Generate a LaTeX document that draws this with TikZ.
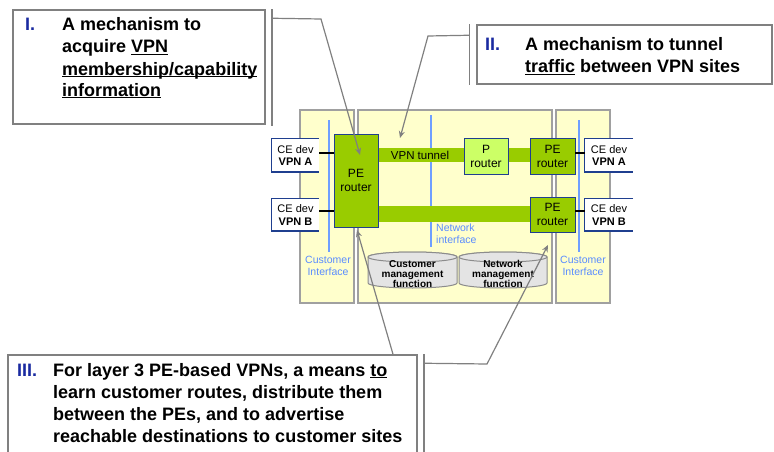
\documentclass[tikz,border=0pt]{standalone}
\usepackage{fontspec}
\setmainfont{Liberation Sans}
\usetikzlibrary{arrows.meta}
\definecolor{panelfill}{HTML}{FFFFCC}
\definecolor{panelline}{HTML}{A0A0A0}
\definecolor{boxline}{HTML}{808080}
\definecolor{pegreen}{HTML}{99CC00}
\definecolor{pgreen}{HTML}{CCFF66}
\definecolor{routerline}{HTML}{1F3F8F}
\definecolor{ifblue}{HTML}{6F9FFF}
\definecolor{iftext}{HTML}{5A8CFF}
\definecolor{numblue}{HTML}{1A2AA0}
\definecolor{cylfill}{HTML}{E4E4E4}
\definecolor{cylline}{HTML}{8C8C8C}
\newcommand\myul[1]{\underline{\smash{#1}}}
\begin{document}
\begin{tikzpicture}[x=1pt,y=-1pt,
  callout/.style={draw=boxline, line width=1.5pt, fill=white, inner sep=0},
  bracket/.style={draw=boxline, line width=1.5pt},
  panel/.style={draw=panelline, line width=2pt, fill=panelfill, inner sep=0},
  pe/.style={draw=routerline, line width=0.8pt, fill=pegreen, inner sep=0, align=center, font=\fontsize{12}{14}\selectfont},
  prouter/.style={pe, fill=pgreen},
  ce/.style={fill=white, inner sep=0, align=center, font=\fontsize{11}{12.5}\selectfont},
  ceedge/.style={draw=routerline, line width=1pt},
  bar/.style={fill=pegreen, draw=none},
  iface/.style={draw=ifblue, line width=1.5pt},
  iflabel/.style={text=iftext, font=\fontsize{10.5}{12}\selectfont, inner sep=0},
  link/.style={draw=black, line width=1.2pt},
  conn/.style={draw=boxline, line width=1.2pt, -{Stealth[length=7pt,width=6pt]}},
  bigtext/.style={font=\bfseries\fontsize{18}{22}\selectfont, inner sep=0, anchor=base west},
  numtext/.style={bigtext, text=numblue},
  cyl/.style={draw=cylline, line width=1pt, fill=cylfill},
  cyltext/.style={font=\bfseries\fontsize{10}{9.6}\selectfont, align=center, inner sep=0}
]
\useasboundingbox (0,0) rectangle (774,452);

% panels
\node[panel, minimum width=54, minimum height=193] (pl) at (327,206.5) {};
\node[panel, minimum width=194, minimum height=193] (pm) at (455,206.5) {};
\node[panel, minimum width=54, minimum height=193] (pr) at (583,206.5) {};

% interface lines
\draw[iface] (329,120) -- (329,252);
\draw[iface] (431,115) -- (431,247);
\draw[iface] (579,120) -- (579,252);

% bars
\fill[bar] (378,148) rectangle (530,162);
\fill[bar] (378,206) rectangle (530,222);

% routers
\node[pe, minimum width=44, minimum height=93] (peL) at (356,180.5) {PE\\router};
\node[prouter, minimum width=44, minimum height=36] (pR) at (486,156) {P\\router};
\node[pe, minimum width=45, minimum height=36] (peRT) at (552.5,156) {PE\\router};
\node[pe, minimum width=45, minimum height=35] (peRB) at (552.5,214.5) {PE\\router};

\node[font=\fontsize{11.5}{13}\selectfont, inner sep=0] (tun) at (420,155) {VPN tunnel};

% CE devices
\node[ce, minimum width=47, minimum height=33] (ceLA) at (295.5,155.5) {CE dev\\\textbf{VPN A}};
\node[ce, minimum width=47, minimum height=32] (ceLB) at (295.5,215) {CE dev\\\textbf{VPN B}};
\node[ce, minimum width=48, minimum height=33] (ceRA) at (609,155.5) {CE dev\\\textbf{VPN A}};
\node[ce, minimum width=48, minimum height=32] (ceRB) at (609,215) {CE dev\\\textbf{VPN B}};
\foreach \c in {ceLA,ceLB,ceRA,ceRB}{
  \draw[ceedge] (\c.north east) -- (\c.north west) -- (\c.south west);
  \draw[ceedge, line width=2pt] ([xshift=-0.5]\c.south west) -- (\c.south east);
}

\draw[link] ([yshift=2.5]ceLA.east) -- ([yshift=2.5]ceLA.east -| peL.west);
\draw[link] ([yshift=4]ceLB.east) -- ([yshift=4]ceLB.east -| peL.west);
\draw[link] ([yshift=2.5]ceRA.west) -- ([yshift=2.5]ceRA.west -| peRT.east);
\draw[link] ([yshift=4]ceRB.west) -- ([yshift=4]ceRB.west -| peRB.east);

% interface labels
\node[iflabel, align=center] (ciL) at (328,266) {Customer\\Interface};
\node[iflabel, align=center] (ciR) at (583,266) {Customer\\Interface};
\node[iflabel, align=left, anchor=north west] (ni) at (436,224) {Network\\interface};

% cylinders
\path[cyl] (368,257) -- (368,283) arc[start angle=180, end angle=360, x radius=44.5pt, y radius=5pt] -- (457,257) arc[start angle=0, end angle=180, x radius=44.5pt, y radius=5pt] -- cycle;
\draw[cyl] (412.5,257) ellipse[x radius=44.5pt, y radius=5pt];
\path[cyl] (459,257) -- (459,283) arc[start angle=180, end angle=360, x radius=44pt, y radius=5pt] -- (547,257) arc[start angle=0, end angle=180, x radius=44pt, y radius=5pt] -- cycle;
\draw[cyl] (503,257) ellipse[x radius=44pt, y radius=5pt];
\node[cyltext] (cmf) at (412.5,274) {Customer\\management\\function};
\node[cyltext] (nmf) at (503,274) {Network\\management\\function};

% callout boxes
\node[callout, minimum width=252, minimum height=114] (boxI) at (139,67) {};
\node[callout, minimum width=295, minimum height=59] (boxII) at (624.5,54.5) {};
\node[callout, minimum width=409, minimum height=115] (boxIII) at (212.5,412.5) {};

\draw[bracket] ([xshift=6]boxI.north east) -- ([xshift=6,yshift=-1]boxI.south east);
\draw[bracket] ([xshift=-7]boxII.north west) -- ([xshift=-7]boxII.south west);
\draw[bracket] ([xshift=6]boxIII.north east) -- ([xshift=6]boxIII.south east);

% connectors
\coordinate (elI) at (321,19);
\coordinate (tipI) at (360,155);
\coordinate (elII) at (428,36);
\coordinate (tipII) at (400,138);
\coordinate (tipIIIa) at (357,230);
\coordinate (elIII) at (487,364);
\coordinate (tipIIIb) at (548,245);
\draw[conn] ([xshift=6,yshift=-9]boxI.north east) -- (elI) -- (tipI);
\draw[conn] ([xshift=-7,yshift=-11]boxII.north west) -- (elII) -- (tipII);
\draw[conn] ([xshift=180.5]boxIII.north) -- (tipIIIa);
\draw[conn] ([xshift=6,yshift=-9]boxIII.north east) -- (elIII) -- (tipIIIb);

% texts box I
\node[numtext] (nI) at (25,31) {I.};
\node[bigtext] (tI1) at (62,31) {A mechanism to};
\node[bigtext] (tI2) at (62,53) {acquire \myul{VPN}};
\node[bigtext] (tI3) at (62,75) {\myul{membership/capability}};
\node[bigtext] (tI4) at (62,96) {\myul{information}};

% texts box II
\node[numtext] (nII) at (485,51) {II.};
\node[bigtext] (tII1) at (525,51) {A mechanism to tunnel};
\node[bigtext] (tII2) at (525,73) {\myul{traffic} between VPN sites};

% texts box III
\node[numtext] (nIII) at (17,376) {III.};
\node[bigtext] (tIII1) at (53,376) {For layer 3 PE-based VPNs, a means \myul{to}};
\node[bigtext] (tIII2) at (53,398) {learn customer routes, distribute them};
\node[bigtext] (tIII3) at (53,420) {between the PEs, and to advertise};
\node[bigtext] (tIII4) at (53,442) {reachable destinations to customer sites};
\end{tikzpicture}
\end{document}
